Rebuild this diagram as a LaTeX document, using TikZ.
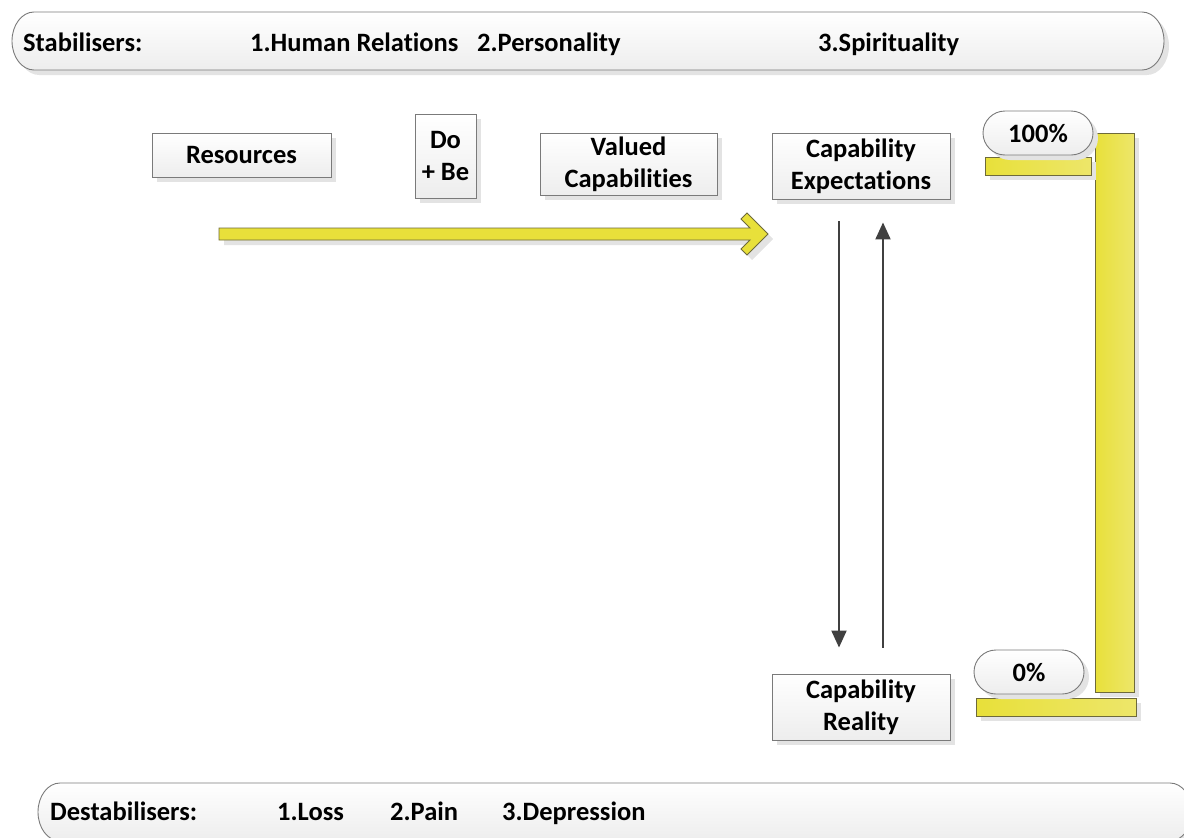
\documentclass[tikz,border=0pt]{standalone}
\usepackage{fontspec}
\setmainfont{Carlito}[Ligatures={NoCommon,NoContextual}]
\usetikzlibrary{arrows.meta,shadows}
\definecolor{ylw}{HTML}{E8E03A}
\definecolor{ylwl}{HTML}{EDE66A}
\definecolor{ylwb}{HTML}{6E6A3A}
\definecolor{boxb}{HTML}{7A7A7A}
\definecolor{darr}{HTML}{404040}
\tikzset{
  txt/.style={font=\bfseries\fontsize{26.5}{32}\selectfont},
  btxt/.style={txt,anchor=base west,inner sep=0pt},
  sh/.style={drop shadow={shadow xshift=5pt,shadow yshift=-5pt,fill=black!11,opacity=1}},
  box/.style={draw=boxb,line width=0.9pt,top color=white,bottom color=black!7,sh,
    txt,align=center,inner sep=0pt},
  pill/.style={box,rounded corners=22pt},
  bar/.style={draw=ylwb,line width=0.9pt,left color=ylw,right color=ylwl,sh},
  banner/.style={draw=boxb,line width=0.9pt,top color=white,bottom color=black!7,sh},
  darrow/.style={draw=darr,line width=2pt,-{Triangle[length=17pt,width=15pt]}},
}
\begin{document}
\begin{tikzpicture}[x=1pt,y=-1pt]
\useasboundingbox (0,0) rectangle (1184,838);
\clip (0,0) rectangle (1184,838);
% top banner
\path[banner]
  (34,12) -- (1142,12) arc[start angle=90,end angle=-90,x radius=22pt,y radius=29pt]
  -- (34,70) arc[start angle=-90,end angle=-270,x radius=22pt,y radius=29pt] -- cycle;
\node[btxt] (stab) at (23,51) {Stabilisers:};
\node[btxt] (s1) at (250,51) {1.Human Relations};
\node[btxt] (s2) at (477,51) {2.Personality};
\node[btxt] (s3) at (818,51) {3.Spirituality};
% bottom banner
\path[banner]
  (60,783) -- (1170,783) arc[start angle=90,end angle=-90,x radius=22pt,y radius=29pt]
  -- (60,841) arc[start angle=-90,end angle=-270,x radius=22pt,y radius=29pt] -- cycle;
\node[btxt] (dest) at (50,820) {Destabilisers:};
\node[btxt] (d1) at (277,820) {1.Loss};
\node[btxt] (d2) at (390,820) {2.Pain};
\node[btxt] (d3) at (502,820) {3.Depression};
% boxes
\node[box,minimum width=179pt,minimum height=44pt] (res) at (241.5,155) {Resources};
\node[box,minimum width=61pt,minimum height=84pt] (dobe) at (445.5,156) {Do\\+ Be};
\node[box,minimum width=177pt,minimum height=62pt] (val) at (628.5,164) {Valued\\Capabilities};
\node[box,minimum width=178pt,minimum height=66pt] (ce) at (861,166) {Capability\\Expectations};
\node[box,minimum width=178pt,minimum height=66pt] (cr) at (861,707) {Capability\\Reality};
% yellow arrow
\path[draw=ylwb,line width=0.9pt,fill=ylw,sh]
  (219,228) -- (750,228) -- (741,219) -- (747,213) -- (768,234) -- (747,255)
  -- (741,249) -- (750,240) -- (219,240) -- cycle;
% vertical arrows
\draw[darrow,shorten <=22pt,shorten >=26pt] (ce.south -| 839,0) -- (cr.north -| 839,0);
\draw[darrow,shorten <=26pt,shorten >=23pt] (cr.north -| 883,0) -- (ce.south -| 883,0);
% scale
\path[bar] (1095,133) rectangle (1134,692);
\path[bar] (985,157) rectangle (1091,175);
\path[bar] (976,698) rectangle (1136,716);
\node[pill,minimum width=110pt,minimum height=44pt] (p100) at (1038,133) {100\%};
\node[pill,minimum width=110pt,minimum height=44pt] (p0) at (1029,672) {0\%};
\end{tikzpicture}
\end{document}
